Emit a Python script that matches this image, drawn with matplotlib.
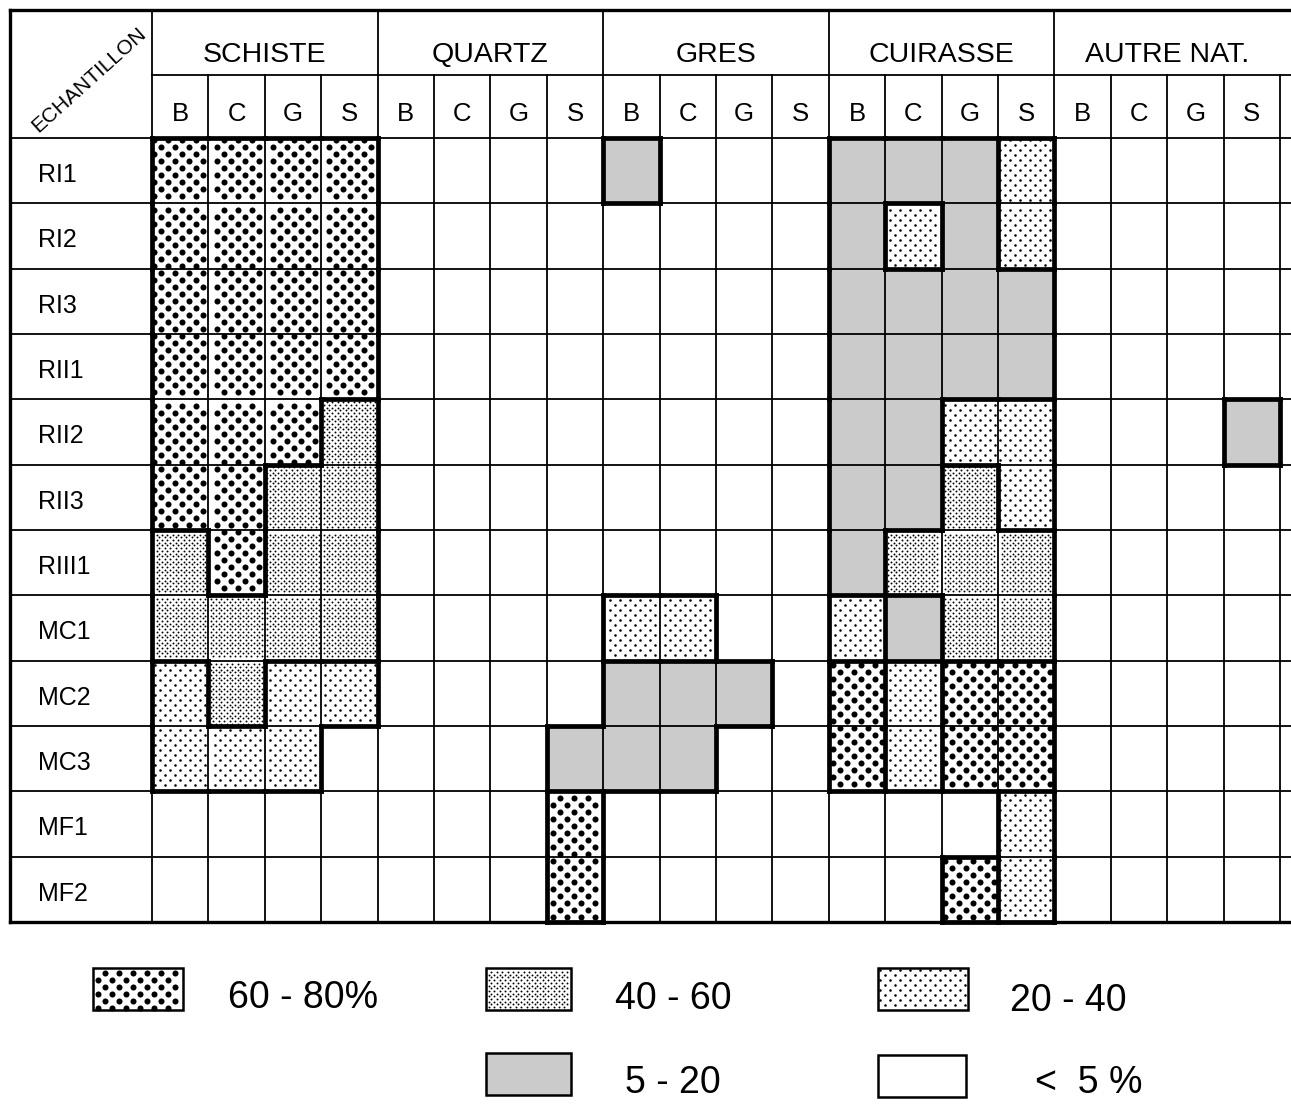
import matplotlib.pyplot as plt
import numpy as np
from matplotlib.patches import Rectangle
from matplotlib.collections import LineCollection

plt.rcParams['font.family'] = ['Liberation Sans', 'DejaVu Sans']

samples = ['RI1', 'RI2', 'RI3', 'RII1', 'RII2', 'RII3', 'RIII1',
           'MC1', 'MC2', 'MC3', 'MF1', 'MF2']
groups = ['SCHISTE', 'QUARTZ', 'GRES', 'CUIRASSE', 'AUTRE NAT.']
subcols = ['B', 'C', 'G', 'S']

# class per cell: 0 = <5%, 1 = 5-20, 2 = 20-40, 3 = 40-60, 4 = 60-80%
schiste = [[4, 4, 4, 4], [4, 4, 4, 4], [4, 4, 4, 4], [4, 4, 4, 4],
           [4, 4, 4, 3], [4, 4, 3, 3], [3, 4, 3, 3], [3, 3, 3, 3],
           [2, 3, 2, 2], [2, 2, 2, 0], [0, 0, 0, 0], [0, 0, 0, 0]]
quartz = [[0, 0, 0, 0], [0, 0, 0, 0], [0, 0, 0, 0], [0, 0, 0, 0],
          [0, 0, 0, 0], [0, 0, 0, 0], [0, 0, 0, 0], [0, 0, 0, 0],
          [0, 0, 0, 0], [0, 0, 0, 1], [0, 0, 0, 4], [0, 0, 0, 4]]
gres = [[1, 0, 0, 0], [0, 0, 0, 0], [0, 0, 0, 0], [0, 0, 0, 0],
        [0, 0, 0, 0], [0, 0, 0, 0], [0, 0, 0, 0], [2, 2, 0, 0],
        [1, 1, 1, 0], [1, 1, 0, 0], [0, 0, 0, 0], [0, 0, 0, 0]]
cuirasse = [[1, 1, 1, 2], [1, 2, 1, 2], [1, 1, 1, 1], [1, 1, 1, 1],
            [1, 1, 2, 2], [1, 1, 3, 2], [1, 3, 3, 3], [2, 1, 3, 3],
            [4, 2, 4, 4], [4, 2, 4, 4], [0, 0, 0, 2], [0, 0, 4, 2]]
autre = [[0, 0, 0, 0], [0, 0, 0, 0], [0, 0, 0, 0], [0, 0, 0, 0],
         [0, 0, 0, 1], [0, 0, 0, 0], [0, 0, 0, 0], [0, 0, 0, 0],
         [0, 0, 0, 0], [0, 0, 0, 0], [0, 0, 0, 0], [0, 0, 0, 0]]

legend_classes = [4, 3, 2, 1, 0]
legend_labels = ['60 - 80%', '40 - 60', '20 - 40', '5 - 20', '<  5 %']

classes = np.hstack([np.array(g) for g in (schiste, quartz, gres, cuirasse, autre)])
n_rows, n_cols = classes.shape

# layout (pixels)
W, H = 1291, 1104
x_left, x_lab, col_w = 10, 152, 56.4
y_top, y_mid, y_head, row_h = 10, 75, 138, 65.33
y_bot = y_head + n_rows * row_h

fig = plt.figure(figsize=(W / 100, H / 100), dpi=100)
ax = fig.add_axes([0, 0, 1, 1])
ax.set_xlim(0, W)
ax.set_ylim(H, 0)
ax.axis('off')

GREY = '#cbcbcb'
# dot screens: spacing x, spacing y, marker size
screens = {4: (14.0, 7.0, 19), 3: (5.4, 2.7, 1.9), 2: (10.0, 5.0, 3.4)}
dots = {k: [] for k in screens}


def fill(x, y, w, h, k):
    if k == 1:
        ax.add_patch(Rectangle((x, y), w, h, facecolor=GREY, edgecolor='none', zorder=1))
    elif k in screens:
        dx, dy, _ = screens[k]
        m = 2.0
        for j in range(int(np.ceil((y + m) / dy)), int(np.floor((y + h - m) / dy)) + 1):
            off = (j % 2) * dx / 2
            for i in range(int(np.ceil((x + m - off) / dx)), int(np.floor((x + w - m - off) / dx)) + 1):
                dots[k].append((i * dx + off, j * dy))


for r in range(n_rows):
    for c in range(n_cols):
        fill(x_lab + c * col_w, y_head + r * row_h, col_w, row_h, classes[r, c])

# legend boxes
leg_boxes = [(93, 968, 90, 42), (486, 968, 85, 42), (878, 968, 90, 42),
             (486, 1053, 85, 42), (878, 1055, 88, 42)]
leg_text = [(228, 1008), (615, 1009), (1010, 1011), (625, 1093), (1035, 1093)]
for k, (bx, by, bw, bh), (tx, ty), lab in zip(legend_classes, leg_boxes, leg_text, legend_labels):
    fill(bx, by, bw, bh, k)
    ax.add_patch(Rectangle((bx, by), bw, bh, facecolor='none', edgecolor='black',
                           lw=1.8, zorder=4))
    ax.text(tx, ty, lab, fontsize=27, va='baseline', ha='left')

for k, pts in dots.items():
    if pts:
        p = np.array(pts)
        ax.scatter(p[:, 0], p[:, 1], s=screens[k][2], c='black', marker='o',
                   linewidths=0, zorder=2)

thin = dict(color='black', lw=1.3, zorder=3)
# horizontal grid lines
ax.plot([x_lab, W], [y_mid, y_mid], **thin)
for r in range(n_rows):
    y = y_head + r * row_h
    ax.plot([x_left, W], [y, y], **thin)
# vertical grid lines
for c in range(n_cols + 1):
    x = x_lab + c * col_w
    top = y_top if c % 4 == 0 and c < n_cols else y_mid
    ax.plot([x, x], [top, y_bot], **thin)

# outer frame
frame = dict(color='black', lw=2.4, zorder=5, solid_capstyle='projecting')
ax.plot([x_left, W], [y_top, y_top], **frame)
ax.plot([x_left, W], [y_bot, y_bot], **frame)
ax.plot([x_left, x_left], [y_top, y_bot], **frame)

# heavy borders where the class changes
segs = []
padded = np.zeros((n_rows + 2, n_cols + 2), dtype=int)
padded[1:-1, 1:-1] = classes
for r in range(n_rows + 1):
    for c in range(n_cols):
        if padded[r, c + 1] != padded[r + 1, c + 1]:
            y = y_head + r * row_h
            segs.append([(x_lab + c * col_w, y), (x_lab + (c + 1) * col_w, y)])
for r in range(n_rows):
    for c in range(n_cols + 1):
        if padded[r + 1, c] != padded[r + 1, c + 1]:
            x = x_lab + c * col_w
            segs.append([(x, y_head + r * row_h), (x, y_head + (r + 1) * row_h)])
ax.add_collection(LineCollection(segs, colors='black', linewidths=3.4,
                                 capstyle='projecting', zorder=4))

# header texts
for g, name in enumerate(groups):
    cx = x_lab + (g * 4 + 2) * col_w
    ax.text(cx, 62, name, fontsize=20.5, ha='center', va='baseline')
for c in range(n_cols):
    cx = x_lab + (c + 0.5) * col_w
    ax.text(cx, 121, subcols[c % 4], fontsize=18.5, ha='center', va='baseline')
for r, name in enumerate(samples):
    ax.text(38, y_head + r * row_h + 44, name, fontsize=18, ha='left', va='baseline')
ax.text(89, 80, 'ECHANTILLON', fontsize=15, rotation=42, ha='center', va='center',
        rotation_mode='anchor')

fig.savefig('out.png', dpi=100, facecolor='white')
